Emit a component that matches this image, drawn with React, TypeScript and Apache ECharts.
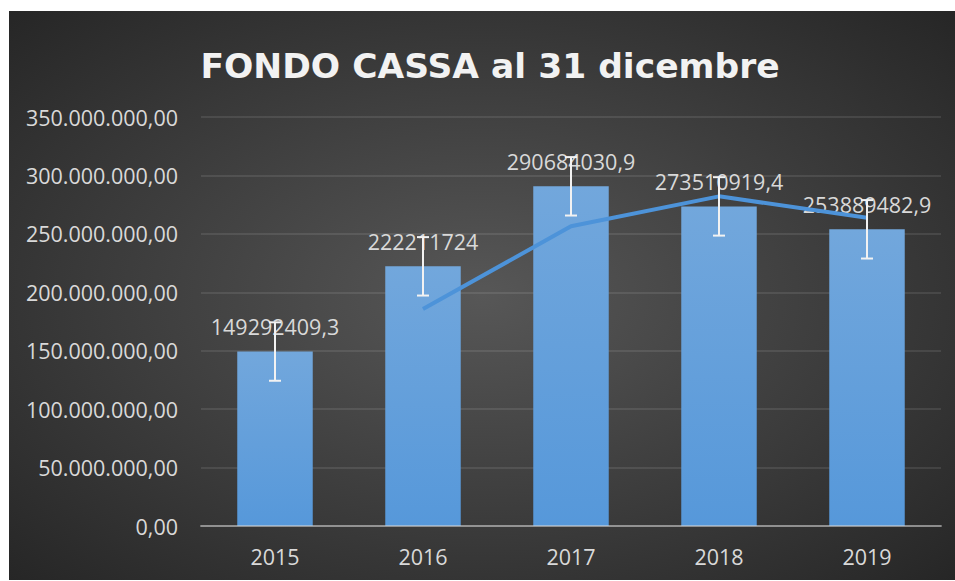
import React, { useEffect, useRef } from "react";
import * as echarts from "echarts";

const categories = ["2015", "2016", "2017", "2018", "2019"];
const fondoCassa = [149292409.3, 222211724, 290684030.9, 273510919.4, 253889482.9];
const errorAmount = [25000000, 25000000, 25000000, 25000000, 25000000];
// 2-period moving average trendline values
const movingAverage = [null, 185752066.65, 256447877.45, 282097475.15, 263700201.15];
const yTicks = { min: 0, max: 350000000, interval: 50000000 };
const titleText = "FONDO CASSA al 31 dicembre";

const fmtAxis = (v: number) =>
  Math.round(v).toString().replace(/\B(?=(\d{3})+(?!\d))/g, ".") + ",00";
const fmtLabel = (v: number) => String(v).replace(".", ",");

export default function App() {
  const ref = useRef<HTMLDivElement>(null);
  useEffect(() => {
    if (!ref.current) return;
    const chart = echarts.init(ref.current, undefined, { renderer: "svg" });
    const textColor = "#d9d9d9";
    const font = "'Open Sans', 'Liberation Sans', sans-serif";
    chart.setOption({
      animation: false,
      backgroundColor: "transparent",
      title: {
        text: titleText,
        left: 476,
        textAlign: "center",
        top: 32,
        textStyle: {
          color: "#f2f2f2",
          fontSize: 34.5,
          fontWeight: "bold",
          fontFamily: "'DejaVu Sans', sans-serif",
        },
      },
      grid: { left: 192, right: 14, top: 106, bottom: 54, containLabel: false },
      xAxis: {
        type: "category",
        data: categories,
        z: 3,
        axisLine: { show: true, lineStyle: { color: "rgba(217,217,217,0.5)", width: 2 } },
        axisTick: { show: false },
        axisLabel: { color: textColor, fontSize: 21.5, fontFamily: font, margin: 19 },
      },
      yAxis: {
        type: "value",
        min: yTicks.min,
        max: yTicks.max,
        interval: yTicks.interval,
        axisLine: { show: false },
        axisTick: { show: false },
        splitLine: { lineStyle: { color: "rgba(255,255,255,0.13)", width: 1.5 } },
        axisLabel: {
          color: textColor,
          fontSize: 21.5,
          fontFamily: font,
          margin: 23,
          formatter: fmtAxis,
        },
      },
      series: [
        {
          type: "bar",
          data: fondoCassa,
          barWidth: "51%",
          z: 2,
          itemStyle: {
            color: {
              type: "linear",
              x: 0,
              y: 0,
              x2: 0,
              y2: 1,
              colorStops: [
                { offset: 0, color: "#72a7dc" },
                { offset: 1, color: "#5698da" },
              ],
            },
          },
          label: {
            show: true,
            position: "top",
            distance: 14,
            color: textColor,
            fontSize: 21.5,
            fontFamily: font,
            formatter: (p: any) => fmtLabel(p.value),
          },
        },
        {
          type: "line",
          data: movingAverage,
          z: 3,
          showSymbol: false,
          symbol: "none",
          connectNulls: false,
          lineStyle: { color: "#4d93d9", width: 4 },
        },
        {
          type: "custom",
          z: 4,
          data: categories.map((c, i) => [i, fondoCassa[i], errorAmount[i]]),
          renderItem: (params: any, api: any) => {
            const x = api.value(0);
            const v = api.value(1);
            const e = api.value(2);
            const top = api.coord([x, v + e]);
            const bot = api.coord([x, v - e]);
            const half = 6;
            const style = { stroke: "#f2f2f2", lineWidth: 2 };
            return {
              type: "group",
              children: [
                { type: "line", shape: { x1: top[0], y1: top[1], x2: bot[0], y2: bot[1] }, style },
                { type: "line", shape: { x1: top[0] - half, y1: top[1], x2: top[0] + half, y2: top[1] }, style },
                { type: "line", shape: { x1: bot[0] - half, y1: bot[1], x2: bot[0] + half, y2: bot[1] }, style },
              ],
            };
          },
        },
      ],
    });
    return () => chart.dispose();
  }, []);
  return (
    <div
      ref={ref}
      style={{
        position: "absolute",
        left: 9,
        top: 11,
        width: 946,
        height: 569,
        background: "radial-gradient(ellipse at center, #575757 0%, #262626 100%)",
      }}
    />
  );
}
